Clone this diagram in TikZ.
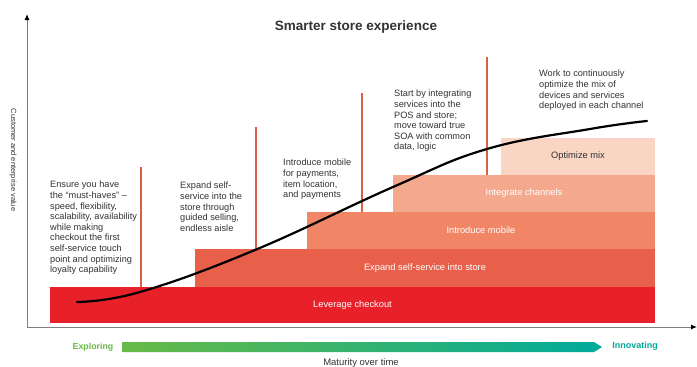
\documentclass[tikz,border=0pt]{standalone}
\usepackage{fontspec}
\setmainfont{Liberation Sans}
\usetikzlibrary{arrows.meta}
\definecolor{store}{RGB}{232,32,42}
\definecolor{store1}{RGB}{232,96,74}
\definecolor{store2}{RGB}{240,134,102}
\definecolor{store3}{RGB}{244,168,142}
\definecolor{store4}{RGB}{250,213,196}
\definecolor{stem}{RGB}{214,98,70}
\definecolor{explore}{RGB}{104,186,70}
\definecolor{innovate}{RGB}{0,170,155}
\colorlet{note}{black!80}

\begin{document}
\begin{tikzpicture} [
    x=1pt, y=-1pt,
    every node/.append style={inner sep=0pt},
    step bar/.style={draw=none},
    bar label/.style={text=white, font=\fontsize{9.3}{11}\selectfont},
    step note/.style={anchor=north west, align=left, text=note, font=\fontsize{9.2}{10.6}\selectfont},
    stem line/.style={draw=stem, line width=1.5pt},
    axis/.style={line width=1pt, draw=black!50, -{Latex[length=6pt, width=5pt, black]}}
  ]

  \useasboundingbox [fill=white] (0,0) rectangle (697,367);
  \node (title) [text=note, font=\bfseries\fontsize{13.5}{15}\selectfont] at (356, 27) {Smarter store experience};

  % axes
  \draw [axis] (27,327) -- (27,14);
  \draw [axis] (27,327) -- (697,327);
  \node (value) [rotate=-90, text=note, font=\fontsize{7.5}{9}\selectfont] at (13, 160) {Customer and enterprise value};

  % steps
  \begin{scope} [every path/.style={step bar}]
    \fill [store]  (50,287) rectangle (655,323) node [pos=0.5, bar label] (checkout) {Leverage checkout};
    \fill [store1] (195,249) rectangle (655,287) node [pos=0.5, bar label] (selfserv) {Expand self-service into store};
    \fill [store2] (307,212) rectangle (655,249) node [pos=0.5, bar label] (mobile) {Introduce mobile};
    \fill [store3] (393,175) rectangle (655,212) node [pos=0.5, bar label] (channels) {Integrate channels};
    \fill [store4] (501,138) rectangle (655,175) node [pos=0.5, bar label, text=note] (mix) {Optimize mix};
  \end{scope}

  % stems
  \path [stem line] (141,167) -- (141,287);
  \path [stem line] (256,127) -- (256,249);
  \path [stem line] (362,93) -- (362,212);
  \path [stem line] (487,57) -- (487,175);

  % value curve
  \draw [line width=2.2pt, line cap=round] plot [smooth, tension=0.7] coordinates {
    (77,302) (140,292) (255,250) (393,187) (487,149) (590,129) (647,121)};

  \node (ensure) [step note] at (50,181) {Ensure you have\\the ``must-haves'' --\\speed, flexibility,\\scalability, availability\\while making\\checkout the first\\self-service touch\\point and optimizing\\loyalty capability};
  \node (expand) [step note] at (180,182) {Expand self-\\service into the\\store through\\guided selling,\\endless aisle};
  \node (introduce) [step note] at (283,159) {Introduce mobile\\for payments,\\item location,\\and payments};
  \node (integrate) [step note] at (394,90) {Start by integrating\\services into the\\POS and store;\\move toward true\\SOA with common\\data, logic};
  \node (optimize) [step note] at (539,70) {Work to continuously\\optimize the mix of\\devices and services\\deployed in each channel};

  % maturity
  \shade [left color=explore, right color=innovate] (122,342) -- (594,342) -- (602,347) -- (594,352) -- (122,352) -- cycle;
  \node (exploring) [text=explore, font=\bfseries\fontsize{8.8}{10}\selectfont] at (93,347) {Exploring};
  \node (innovating) [text=innovate, font=\bfseries\fontsize{9}{10}\selectfont] at (635,346) {Innovating};
  \node (maturity) [text=note, font=\fontsize{9.5}{10}\selectfont] at (361,363) {Maturity over time};
\end{tikzpicture}
\end{document}
